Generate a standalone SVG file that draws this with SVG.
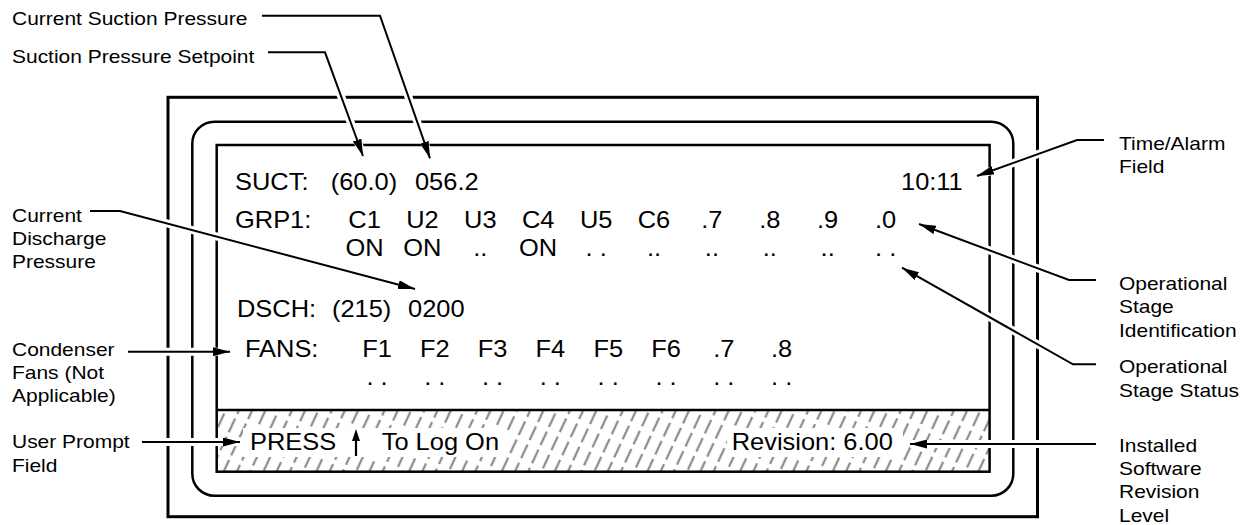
<svg xmlns="http://www.w3.org/2000/svg" width="1247" height="525" viewBox="0 0 1247 525">
<defs>
<style>
.lbl{font-family:"Liberation Sans",Arial,Helvetica,sans-serif;font-size:18px;fill:#000}
.scr{font-family:"Liberation Sans",Arial,Helvetica,sans-serif;font-size:24px;fill:#000}
.mid{text-anchor:middle}
.frame{fill:none;stroke:#000}
.lead{fill:none;stroke:#000;stroke-width:2;marker-end:url(#ah)}
.halo{fill:none;stroke:#fff;stroke-width:8}
</style>
<marker id="ah" viewBox="0 0 17 9" refX="17" refY="4.5" markerWidth="17" markerHeight="9" markerUnits="userSpaceOnUse" orient="auto">
<path d="M0,0 L17,4.5 L0,9 z" fill="#000"/>
</marker>
<pattern id="hatch" patternUnits="userSpaceOnUse" width="12" height="40" patternTransform="rotate(25)">
<line x1="6" y1="0" x2="6" y2="40" stroke="#8e8e8e" stroke-width="2.3" stroke-dasharray="15 5"/>
</pattern>
</defs>
<rect width="1247" height="525" fill="#fff"/>

<g id="display">
<rect class="frame" x="168" y="97.3" width="869.5" height="419.4" stroke-width="3"/>
<rect class="frame" x="192.3" y="121.7" width="821" height="374" rx="22" stroke-width="2.5"/>
<rect x="216.7" y="410" width="772.9" height="61.7" fill="url(#hatch)"/>
<rect x="243" y="428" width="264" height="29" fill="#fff"/>
<rect x="727" y="428" width="176" height="29" fill="#fff"/>
<rect class="frame" x="216.7" y="145" width="772.9" height="326.7" stroke-width="2.5"/>
<line x1="216.7" y1="410" x2="989.6" y2="410" stroke="#000" stroke-width="2.5"/>
</g>

<g id="connectors">
<g id="halos">
<path class="halo" d="M262,15.7 H380 L430,158.3"/>
<path class="halo" d="M268,52.3 H325 L363,156"/>
<path class="halo" d="M90,211 H120 L415,289"/>
<path class="halo" d="M128,351.7 H230"/>
<path class="halo" d="M142,442 H240"/>
<path class="halo" d="M1104,140 H1077 L977,176"/>
<path class="halo" d="M1096,280 H1069 L919,224"/>
<path class="halo" d="M1096,364.3 H1073 L902,267.7"/>
<path class="halo" d="M1096,444 H910"/>
</g>
<path class="lead" d="M262,15.7 H380 L430,158.3"/>
<path class="lead" d="M268,52.3 H325 L363,156"/>
<path class="lead" d="M90,211 H120 L415,289"/>
<path class="lead" d="M128,351.7 H230"/>
<path class="lead" d="M142,442 H240"/>
<path class="lead" d="M1104,140 H1077 L977,176"/>
<path class="lead" d="M1096,280 H1069 L919,224"/>
<path class="lead" d="M1096,364.3 H1073 L902,267.7"/>
<path class="lead" d="M1096,444 H910"/>
</g>

<g id="screen" transform="scale(1.06,1)">
<g id="suct-row" class="scr">
<text x="221.7" y="190">SUCT:</text>
<text x="312" y="190">(60.0)</text>
<text x="391.5" y="190">056.2</text>
<text x="850" y="190">10:11</text>
</g>
<g id="grp-row" class="scr">
<text x="221.7" y="228.3">GRP1:</text>
<text class="mid" x="343.9" y="228.3">C1</text>
<text class="mid" x="398.5" y="228.3">U2</text>
<text class="mid" x="453.1" y="228.3">U3</text>
<text class="mid" x="507.7" y="228.3">C4</text>
<text class="mid" x="562.4" y="228.3">U5</text>
<text class="mid" x="617" y="228.3">C6</text>
<text class="mid" x="671.6" y="228.3">.7</text>
<text class="mid" x="726.2" y="228.3">.8</text>
<text class="mid" x="780.8" y="228.3">.9</text>
<text class="mid" x="835.5" y="228.3">.0</text>
</g>
<g id="status-row" class="scr">
<text class="mid" x="343.9" y="256">ON</text>
<text class="mid" x="398.5" y="256">ON</text>
<text class="mid" x="453.1" y="256">..</text>
<text class="mid" x="507.7" y="256">ON</text>
<text class="mid" x="562.4" y="256">. .</text>
<text class="mid" x="617" y="256">..</text>
<text class="mid" x="671.6" y="256">..</text>
<text class="mid" x="726.2" y="256">..</text>
<text class="mid" x="780.8" y="256">..</text>
<text class="mid" x="835.5" y="256">. .</text>
</g>
<g id="dsch-row" class="scr">
<text x="223.6" y="316.7">DSCH:</text>
<text x="313.2" y="316.7">(215)</text>
<text x="384.9" y="316.7">0200</text>
</g>
<g id="fans-row" class="scr">
<text x="231.1" y="356.7">FANS:</text>
<text class="mid" x="355.7" y="356.7">F1</text>
<text class="mid" x="410.2" y="356.7">F2</text>
<text class="mid" x="464.7" y="356.7">F3</text>
<text class="mid" x="519.2" y="356.7">F4</text>
<text class="mid" x="573.8" y="356.7">F5</text>
<text class="mid" x="628.3" y="356.7">F6</text>
<text class="mid" x="682.8" y="356.7">.7</text>
<text class="mid" x="737.4" y="356.7">.8</text>
</g>
<g id="fans-status" class="scr">
<text class="mid" x="355.7" y="385">. .</text>
<text class="mid" x="410.2" y="385">. .</text>
<text class="mid" x="464.7" y="385">. .</text>
<text class="mid" x="519.2" y="385">. .</text>
<text class="mid" x="573.8" y="385">. .</text>
<text class="mid" x="628.3" y="385">. .</text>
<text class="mid" x="682.8" y="385">. .</text>
<text class="mid" x="737.4" y="385">. .</text>
</g>
<g id="prompt" class="scr">
<text x="235.8" y="450">PRESS</text>
<text x="360.1" y="450">To Log On</text>
</g>
<g id="revision" class="scr">
<text x="690.3" y="450">Revision: 6.00</text>
</g>
</g>

<g id="up-arrow">
<polygon points="356,429 352,441 360,441" fill="#000"/>
<line x1="356" y1="440" x2="356" y2="456" stroke="#000" stroke-width="2.2"/>
</g>

<g id="label-current-suction" class="lbl" transform="translate(12,0) scale(1.165,1)">
<text x="0" y="25">Current Suction Pressure</text>
</g>
<g id="label-setpoint" class="lbl" transform="translate(12,0) scale(1.165,1)">
<text x="0" y="62.7">Suction Pressure Setpoint</text>
</g>
<g id="label-discharge" class="lbl" transform="translate(12,0) scale(1.165,1)">
<text x="0" y="221.7">Current</text>
<text x="0" y="245">Discharge</text>
<text x="0" y="268.3">Pressure</text>
</g>
<g id="label-condenser" class="lbl" transform="translate(12,0) scale(1.165,1)">
<text x="0" y="355.7">Condenser</text>
<text x="0" y="379">Fans (Not</text>
<text x="0" y="402.3">Applicable)</text>
</g>
<g id="label-prompt" class="lbl" transform="translate(12,0) scale(1.165,1)">
<text x="0" y="448.3">User Prompt</text>
<text x="0" y="471.7">Field</text>
</g>
<g id="label-time" class="lbl" transform="translate(1119,0) scale(1.165,1)">
<text x="0" y="150">Time/Alarm</text>
<text x="0" y="173.3">Field</text>
</g>
<g id="label-stage-id" class="lbl" transform="translate(1119,0) scale(1.165,1)">
<text x="0" y="290">Operational</text>
<text x="0" y="313.3">Stage</text>
<text x="0" y="336.7">Identification</text>
</g>
<g id="label-stage-status" class="lbl" transform="translate(1119,0) scale(1.165,1)">
<text x="0" y="373.3">Operational</text>
<text x="0" y="396.7">Stage Status</text>
</g>
<g id="label-revision" class="lbl" transform="translate(1119,0) scale(1.165,1)">
<text x="0" y="451.7">Installed</text>
<text x="0" y="475">Software</text>
<text x="0" y="498.3">Revision</text>
<text x="0" y="521.7">Level</text>
</g>
</svg>
